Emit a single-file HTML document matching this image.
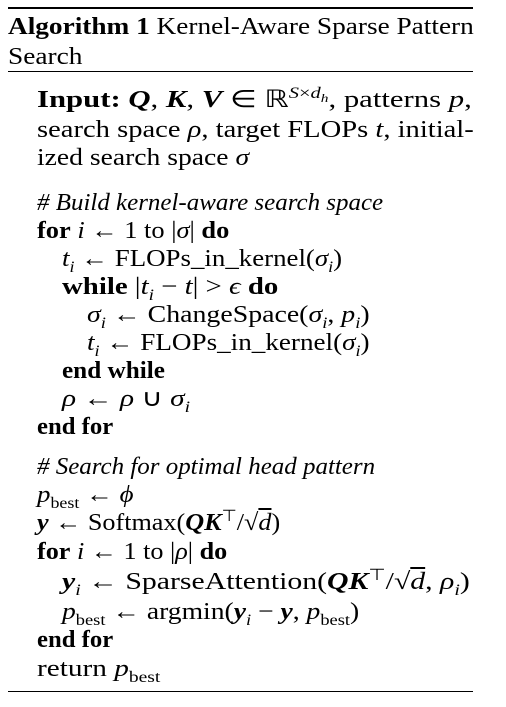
<!DOCTYPE html>
<html><head><meta charset="utf-8"><style>
body{margin:0;width:506px;height:707px;background:#fff;position:relative;overflow:hidden;font-family:"Liberation Serif",serif;font-size:24px;color:#000}
.l{position:absolute;white-space:nowrap;line-height:28px;transform-origin:0 50%}
.r{position:absolute;left:8px;width:465px;background:#000}
i{font-style:italic}
.c{font-style:italic}
sub,sup{font-size:16px;line-height:0}
</style></head><body>
<div class="r" style="top:7px;height:2px"></div>
<div class="r" style="top:71px;height:1px"></div>
<div class="r" style="top:691px;height:1px"></div>
<div class="l" style="left:8px;top:13px;transform:scaleX(1.137)"><b>Algorithm 1</b> Kernel-Aware Sparse Pattern</div>
<div class="l" style="left:8px;top:43px;transform:scaleX(1.14)">Search</div>
<div class="l" style="left:37px;top:86px;transform:scaleX(1.28)"><b>Input:</b> <b><i>Q</i></b>, <b><i>K</i></b>, <b><i>V</i></b> ∈ ℝ<sup><i>S</i>×<i>d<sub style="font-size:12px">h</sub></i></sup>, patterns <i>p</i>,</div>
<div class="l" style="left:37px;top:116px;transform:scaleX(1.19)">search space <i>ρ</i>, target FLOPs <i>t</i>, initial-</div>
<div class="l" style="left:37px;top:144px;transform:scaleX(1.15)">ized search space <i>σ</i></div>
<div class="l c" style="left:37px;top:189px;transform:scaleX(1.04)"># Build kernel-aware search space</div>
<div class="l" style="left:37px;top:217px;transform:scaleX(1.10)"><b>for</b> <i>i</i> ← 1 to |<i>σ</i>| <b>do</b></div>
<div class="l" style="left:62px;top:245px;transform:scaleX(1.12)"><i>t<sub>i</sub></i> ← FLOPs_in_kernel(<i>σ<sub>i</sub></i>)</div>
<div class="l" style="left:62px;top:273px;transform:scaleX(1.2)"><b>while</b> |<i>t<sub>i</sub></i> − <i>t</i>| &gt; <i>ϵ</i> <b>do</b></div>
<div class="l" style="left:87px;top:301px;transform:scaleX(1.16)"><i>σ<sub>i</sub></i> ← ChangeSpace(<i>σ<sub>i</sub></i>, <i>p<sub>i</sub></i>)</div>
<div class="l" style="left:87px;top:329px;transform:scaleX(1.13)"><i>t<sub>i</sub></i> ← FLOPs_in_kernel(<i>σ<sub>i</sub></i>)</div>
<div class="l" style="left:62px;top:357px;transform:scaleX(1.05)"><b>end while</b></div>
<div class="l" style="left:62px;top:385px;transform:scaleX(1.22)"><i>ρ</i> ← <i>ρ</i> ∪ <i>σ<sub>i</sub></i></div>
<div class="l" style="left:37px;top:413px;transform:scaleX(1.03)"><b>end for</b></div>
<div class="l c" style="left:37px;top:453px;transform:scaleX(1.04)"># Search for optimal head pattern</div>
<div class="l" style="left:37px;top:481px;transform:scaleX(1.12)"><i>p</i><sub>best</sub> ← <i>ϕ</i></div>
<div class="l" style="left:37px;top:509px;transform:scaleX(1.09)"><b><i>y</i></b> ← Softmax(<b><i>QK</i></b><sup>⊤</sup>/√<span style="text-decoration:overline"><i>d</i></span>)</div>
<div class="l" style="left:37px;top:538px;transform:scaleX(1.09)"><b>for</b> <i>i</i> ← 1 to |<i>ρ</i>| <b>do</b></div>
<div class="l" style="left:62px;top:568px;transform:scaleX(1.24)"><b><i>y</i></b><sub><i>i</i></sub> ← SparseAttention(<b><i>QK</i></b><sup>⊤</sup>/√<span style="text-decoration:overline"><i>d</i></span>, <i>ρ<sub>i</sub></i>)</div>
<div class="l" style="left:62px;top:598px;transform:scaleX(1.15)"><i>p</i><sub>best</sub> ← argmin(<b><i>y</i></b><sub><i>i</i></sub> − <b><i>y</i></b>, <i>p</i><sub>best</sub>)</div>
<div class="l" style="left:37px;top:626px;transform:scaleX(1.03)"><b>end for</b></div>
<div class="l" style="left:37px;top:655px;transform:scaleX(1.22)">return <i>p</i><sub>best</sub></div>
</body></html>
